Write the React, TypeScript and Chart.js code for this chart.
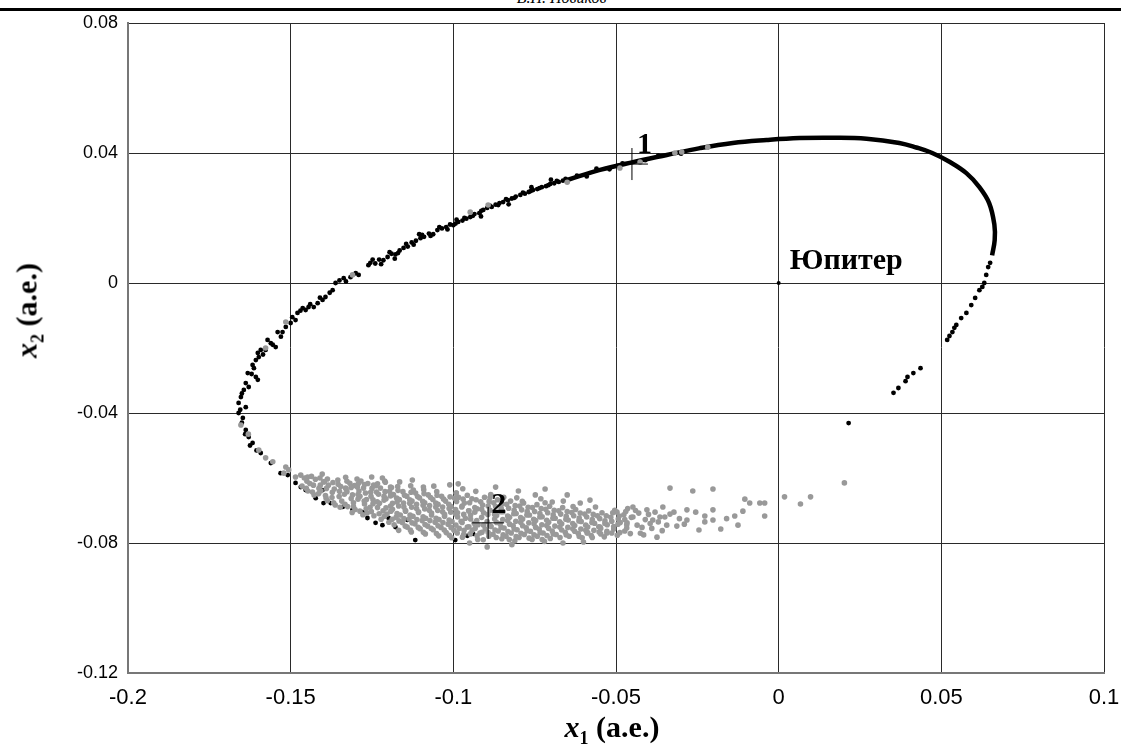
import React, { useEffect, useRef } from "react";
import { Chart, registerables } from "chart.js";

Chart.register(...registerables);

// Axis ranges and tick steps
const xRange = [-0.2, 0.1];
const yRange = [-0.12, 0.08];
const xStep = 0.05;
const yStep = 0.04;

// Dense (continuous-looking) part of the black orbit
const blackCurve: [number, number][] = [
  [-0.065, 0.0317], [-0.0549, 0.0348], [-0.0448, 0.0372], [-0.0344, 0.0394], [-0.0242, 0.0415],
  [-0.0141, 0.0431], [-0.0037, 0.044], [0.0064, 0.0446], [0.0166, 0.0447], [0.027, 0.0444],
  [0.0371, 0.0431], [0.0423, 0.0417], [0.0472, 0.04], [0.0525, 0.0373], [0.0577, 0.0338],
  [0.0617, 0.0295], [0.0647, 0.0246], [0.0663, 0.018], [0.0664, 0.0132], [0.0656, 0.0085],
];

// Individual black points of the orbit
const blackPoints: [number, number][] = [
  [-0.062, 0.033], [-0.059, 0.0328], [-0.056, 0.0352], [-0.052, 0.035], [-0.048, 0.0368], [-0.041, 0.0378],
  [-0.037, 0.0392], [-0.03, 0.0398],
  [-0.1255, 0.0062], [-0.124, 0.006], [-0.1228, 0.0072], [-0.1215, 0.007], [-0.1202, 0.008], [-0.119, 0.009],
  [-0.1178, 0.0088], [-0.1165, 0.01], [-0.1153, 0.0108], [-0.114, 0.0112], [-0.1128, 0.0125], [-0.1115, 0.013],
  [-0.1101, 0.0138], [-0.109, 0.0142], [-0.1075, 0.0152], [-0.1062, 0.015], [-0.1049, 0.0163], [-0.1035, 0.0168],
  [-0.1022, 0.0172], [-0.101, 0.018], [-0.1, 0.0178], [-0.0985, 0.0188], [-0.0972, 0.0192], [-0.096, 0.0198],
  [-0.0948, 0.0203], [-0.0935, 0.0212], [-0.092, 0.0215], [-0.0908, 0.0225], [-0.0896, 0.0231], [-0.0882, 0.0234],
  [-0.087, 0.0241], [-0.0858, 0.0246], [-0.0847, 0.0249], [-0.0832, 0.0255], [-0.082, 0.026], [-0.0808, 0.0266],
  [-0.0794, 0.0271], [-0.078, 0.0275], [-0.0768, 0.028], [-0.0755, 0.0286], [-0.0742, 0.0289], [-0.0728, 0.0295],
  [-0.0715, 0.0298], [-0.0702, 0.0305], [-0.069, 0.0307], [-0.0676, 0.0311], [-0.0663, 0.0315],
  [-0.118, 0.0075], [-0.1105, 0.015], [-0.099, 0.0195], [-0.0915, 0.0205], [-0.083, 0.0242], [-0.076, 0.0295],
  [-0.07, 0.0318],
  [-0.1248, 0.0072], [-0.1222, 0.0058], [-0.1196, 0.0095], [-0.117, 0.0092], [-0.1145, 0.012], [-0.1122, 0.0118],
  [-0.1096, 0.0148], [-0.107, 0.0145], [-0.1043, 0.0172], [-0.1018, 0.0165], [-0.0993, 0.0183], [-0.0966, 0.02],
  [-0.094, 0.0207], [-0.0914, 0.0222], [-0.0888, 0.0238], [-0.0862, 0.024], [-0.0838, 0.0258], [-0.0812, 0.0262],
  [-0.0786, 0.0278], [-0.0762, 0.0283], [-0.0735, 0.0292], [-0.0708, 0.0301], [-0.0682, 0.0314], [-0.0655, 0.032],
  [-0.1261, 0.0055], [-0.1291, 0.0025], [-0.1316, 0.0018], [-0.1337, 0.0015], [-0.1362, 0.0], [-0.1371, -0.0022],
  [-0.1393, -0.0043], [-0.1402, -0.0052], [-0.1417, -0.0062], [-0.1429, -0.0074], [-0.1445, -0.0074],
  [-0.1454, -0.0083], [-0.1463, -0.0077], [-0.1479, -0.0092], [-0.1485, -0.0114], [-0.15, -0.0123],
  [-0.1515, -0.0135], [-0.1525, -0.0151], [-0.154, -0.0151], [-0.1546, -0.0197], [-0.1561, -0.0185],
  [-0.1571, -0.0175], [-0.1577, -0.0206], [-0.1592, -0.0206], [-0.1598, -0.0228], [-0.1601, -0.0215],
  [-0.1607, -0.0237], [-0.1613, -0.0262], [-0.1617, -0.0252], [-0.1607, -0.0289], [-0.1601, -0.0298],
  [-0.1632, -0.0277], [-0.1638, -0.0308], [-0.1629, -0.032], [-0.1644, -0.0329], [-0.1653, -0.0351],
  [-0.166, -0.0369], [-0.1638, -0.0382], [-0.166, -0.04], [-0.1647, -0.0415], [-0.1638, -0.0452],
  [-0.1629, -0.0474], [-0.1617, -0.0492], [-0.1592, -0.0523], [-0.1561, -0.0554], [-0.1531, -0.0585],
  [-0.13, 0.003], [-0.133, 0.0005], [-0.135, 0.0008], [-0.138, -0.003], [-0.141, -0.0045], [-0.144, -0.0065],
  [-0.147, -0.0085], [-0.1495, -0.0105], [-0.153, -0.0165], [-0.1555, -0.019], [-0.1585, -0.022], [-0.162, -0.028],
  [-0.165, -0.034], [-0.1655, -0.039], [-0.165, -0.043], [-0.164, -0.0465], [-0.1625, -0.05], [-0.1605, -0.0515],
  [-0.1509, -0.0591], [-0.1485, -0.0615], [-0.1469, -0.0628], [-0.1454, -0.0637], [-0.1423, -0.0662],
  [-0.1402, -0.0637], [-0.1399, -0.0677], [-0.1377, -0.0677], [-0.134, -0.0689], [-0.131, -0.0698],
  [-0.1279, -0.0705], [-0.1264, -0.0723], [-0.1239, -0.0738], [-0.1218, -0.0745], [-0.1199, -0.0723],
  [-0.1178, -0.0751], [-0.1141, -0.0729], [-0.1117, -0.0791], [-0.0994, -0.0791], [-0.0957, -0.0778],
  [-0.0939, -0.0772],
  [0.065, 0.0062], [0.0644, 0.0049], [0.0638, 0.0025], [0.0632, 0.0], [0.0626, -0.0012], [0.0617, -0.0022],
  [0.0604, -0.0046], [0.0592, -0.0068], [0.0577, -0.0092], [0.0561, -0.0108], [0.0546, -0.0129],
  [0.054, -0.0138], [0.0534, -0.0151], [0.0525, -0.0163], [0.0518, -0.0175],
  [0.0353, -0.0338], [0.0368, -0.0323], [0.039, -0.0302], [0.0396, -0.0289], [0.0414, -0.0277], [0.0436, -0.0262],
  [0.0215, -0.0431],
];

// Grey points (scattered cloud)
const grayPoints: [number, number][] = [
  [-0.0488, 0.0354], [-0.0426, 0.0372], [-0.0319, 0.04], [-0.0298, 0.0403], [-0.0218, 0.0418], [-0.065, 0.031],
  [-0.131, 0.0025], [-0.0948, 0.0218], [-0.0893, 0.024], [-0.1515, -0.012], [-0.1577, -0.02],
  [-0.1653, -0.0437], [-0.163, -0.0465], [-0.1598, -0.0514], [-0.1577, -0.0538], [-0.1555, -0.055],
  [-0.1521, -0.0585], [-0.1515, -0.0566], [-0.1506, -0.0575], [-0.1485, -0.0597], [-0.1469, -0.0591],
  [-0.1448, -0.0597],
  [-0.1458, -0.06], [-0.1465, -0.0625],
  [-0.1436, -0.0595], [-0.1447, -0.064], [-0.1441, -0.0617],
  [-0.1424, -0.0604], [-0.1413, -0.0632], [-0.1428, -0.0652],
  [-0.1396, -0.0611], [-0.1407, -0.0639], [-0.1391, -0.0662], [-0.1403, -0.0588],
  [-0.1384, -0.0622], [-0.1372, -0.0644], [-0.1387, -0.067],
  [-0.1355, -0.0606], [-0.1366, -0.0634], [-0.1351, -0.0657], [-0.1363, -0.0683],
  [-0.1346, -0.0626], [-0.1335, -0.065], [-0.1343, -0.0671], [-0.1331, -0.0598],
  [-0.1318, -0.0616], [-0.1327, -0.0642], [-0.1314, -0.0663], [-0.1325, -0.0688], [-0.1311, -0.0706],
  [-0.1304, -0.0623], [-0.1293, -0.0651], [-0.1307, -0.0676], [-0.1296, -0.0603], [-0.1302, -0.0697],
  [-0.1276, -0.0631], [-0.1287, -0.0656], [-0.1273, -0.068], [-0.1284, -0.0609], [-0.1278, -0.0713],
  [-0.1263, -0.0617], [-0.1254, -0.0644], [-0.1267, -0.0666], [-0.1256, -0.069], [-0.1251, -0.0597], [-0.1265, -0.0708],
  [-0.1236, -0.0643], [-0.1247, -0.0667], [-0.1233, -0.0691], [-0.1244, -0.0716], [-0.1238, -0.0624],
  [-0.1224, -0.0631], [-0.1213, -0.0656], [-0.1227, -0.0678], [-0.1216, -0.0701], [-0.1222, -0.0727], [-0.1211, -0.0609],
  [-0.1196, -0.0641], [-0.1207, -0.0664], [-0.1193, -0.0686], [-0.1204, -0.0711], [-0.1198, -0.0736], [-0.1209, -0.0613],
  [-0.1184, -0.0651], [-0.1173, -0.0674], [-0.1187, -0.0696], [-0.1176, -0.0721], [-0.1182, -0.0744], [-0.1171, -0.0626],
  [-0.1155, -0.0642], [-0.1166, -0.0666], [-0.1152, -0.0689], [-0.1163, -0.0714], [-0.1157, -0.0737], [-0.1168, -0.0761],
  [-0.1143, -0.0656], [-0.1134, -0.0678], [-0.1147, -0.0702], [-0.1136, -0.0726], [-0.1142, -0.0751], [-0.1131, -0.0624],
  [-0.1116, -0.0646], [-0.1127, -0.0671], [-0.1113, -0.0694], [-0.1124, -0.0718], [-0.1118, -0.0741], [-0.1129, -0.0766],
  [-0.1104, -0.0661], [-0.1093, -0.0684], [-0.1107, -0.0706], [-0.1096, -0.0731], [-0.1102, -0.0756], [-0.1091, -0.0636],
  [-0.1077, -0.0652], [-0.1088, -0.0676], [-0.1074, -0.0699], [-0.1085, -0.0724], [-0.1079, -0.0748], [-0.1086, -0.0772],
  [-0.1063, -0.0666], [-0.1054, -0.0689], [-0.1067, -0.0714], [-0.1056, -0.0736], [-0.1062, -0.0759], [-0.1051, -0.0642],
  [-0.1036, -0.0656], [-0.1047, -0.0681], [-0.1033, -0.0704], [-0.1044, -0.0728], [-0.1038, -0.0752], [-0.1045, -0.0778],
  [-0.1024, -0.0671], [-0.1013, -0.0694], [-0.1027, -0.0718], [-0.1016, -0.0742], [-0.1022, -0.0768], [-0.1011, -0.0621],
  [-0.0996, -0.0662], [-0.1007, -0.0688], [-0.0993, -0.0711], [-0.1004, -0.0734], [-0.0998, -0.0761], [-0.1005, -0.0784], [-0.0991, -0.0646],
  [-0.0984, -0.0659], [-0.0973, -0.0686], [-0.0987, -0.0707], [-0.0976, -0.0733], [-0.0982, -0.0755], [-0.0971, -0.0633],
  [-0.0957, -0.0653], [-0.0966, -0.0677], [-0.0952, -0.0701], [-0.0963, -0.0724], [-0.0957, -0.0751], [-0.0968, -0.0773],
  [-0.0943, -0.0664], [-0.0934, -0.0691], [-0.0947, -0.0714], [-0.0936, -0.0739], [-0.0942, -0.0761], [-0.0931, -0.0641],
  [-0.0916, -0.0673], [-0.0927, -0.0695], [-0.0913, -0.0721], [-0.0924, -0.0744], [-0.0918, -0.0769], [-0.0925, -0.0789],
  [-0.0904, -0.0659], [-0.0893, -0.0686], [-0.0907, -0.0707], [-0.0896, -0.0734], [-0.0902, -0.0757], [-0.0891, -0.0779],
  [-0.0876, -0.0676], [-0.0887, -0.0699], [-0.0873, -0.0726], [-0.0884, -0.0749], [-0.0878, -0.0773], [-0.0885, -0.0651],
  [-0.0864, -0.0667], [-0.0853, -0.0693], [-0.0867, -0.0715], [-0.0856, -0.0741], [-0.0862, -0.0763], [-0.0851, -0.0787],
  [-0.0836, -0.0681], [-0.0847, -0.0704], [-0.0833, -0.0731], [-0.0844, -0.0754], [-0.0838, -0.0779], [-0.0845, -0.0659],
  [-0.0824, -0.0671], [-0.0813, -0.0699], [-0.0827, -0.0721], [-0.0816, -0.0747], [-0.0822, -0.0769], [-0.0811, -0.0793],
  [-0.0796, -0.0686], [-0.0807, -0.0709], [-0.0793, -0.0736], [-0.0804, -0.0759], [-0.0798, -0.0783], [-0.0805, -0.0661],
  [-0.0784, -0.0677], [-0.0773, -0.0703], [-0.0787, -0.0726], [-0.0776, -0.0753], [-0.0782, -0.0774],
  [-0.0757, -0.0691], [-0.0766, -0.0714], [-0.0752, -0.0741], [-0.0763, -0.0764], [-0.0758, -0.0789],
  [-0.0743, -0.0682], [-0.0734, -0.0709], [-0.0747, -0.0731], [-0.0736, -0.0757], [-0.0742, -0.0779], [-0.0731, -0.0664],
  [-0.0716, -0.0696], [-0.0727, -0.0719], [-0.0713, -0.0746], [-0.0724, -0.0769], [-0.0718, -0.0676],
  [-0.0704, -0.0687], [-0.0693, -0.0713], [-0.0707, -0.0736], [-0.0696, -0.0763], [-0.0702, -0.0786],
  [-0.0676, -0.0701], [-0.0687, -0.0724], [-0.0673, -0.0751], [-0.0684, -0.0774],
  [-0.0664, -0.0691], [-0.0653, -0.0718], [-0.0667, -0.0741], [-0.0656, -0.0767], [-0.0662, -0.0671],
  [-0.0636, -0.0706], [-0.0647, -0.0729], [-0.0633, -0.0756], [-0.0644, -0.0779],
  [-0.0624, -0.0697], [-0.0613, -0.0723], [-0.0627, -0.0746], [-0.0616, -0.0771],
  [-0.0596, -0.0711], [-0.0607, -0.0734], [-0.0593, -0.0761], [-0.0604, -0.0784],
  [-0.0584, -0.0701], [-0.0573, -0.0728], [-0.0587, -0.0751], [-0.0576, -0.0777],
  [-0.0557, -0.0716], [-0.0566, -0.0739], [-0.0552, -0.0766], [-0.0563, -0.0689],
  [-0.0543, -0.0707], [-0.0534, -0.0732], [-0.0547, -0.0755], [-0.0536, -0.0781],
  [-0.0516, -0.0721], [-0.0527, -0.0744], [-0.0513, -0.0769],
  [-0.0504, -0.0699], [-0.0493, -0.0726], [-0.0507, -0.0749], [-0.0496, -0.0776],
  [-0.0476, -0.0713], [-0.0487, -0.0737], [-0.0473, -0.0763],
  [-0.0464, -0.0694], [-0.0453, -0.0721], [-0.0467, -0.0744], [-0.0456, -0.0771],
  [-0.043, -0.0708], [-0.042, -0.0752], [-0.041, -0.0728],
  [-0.044, -0.07], [-0.0435, -0.0745], [-0.0425, -0.077], [-0.04, -0.0712], [-0.0395, -0.074],
  [-0.038, -0.0705], [-0.037, -0.0735], [-0.035, -0.072], [-0.0322, -0.0705], [-0.029, -0.0742],
  [-0.1165, -0.0612], [-0.106, -0.0625], [-0.0985, -0.0618], [-0.087, -0.0628], [-0.08, -0.064], [-0.065, -0.0652],
  [-0.058, -0.0668], [-0.095, -0.08], [-0.082, -0.0805], [-0.072, -0.0795], [-0.06, -0.0797],
  [-0.145, -0.061], [-0.1452, -0.0632], [-0.143, -0.0622], [-0.1433, -0.0643],
  [-0.141, -0.06], [-0.1414, -0.0648], [-0.1409, -0.0622], [-0.139, -0.0632], [-0.1393, -0.0654], [-0.1387, -0.0603],
  [-0.137, -0.0614], [-0.1373, -0.066], [-0.1368, -0.0676], [-0.135, -0.0641], [-0.1354, -0.0619], [-0.1348, -0.069],
  [-0.133, -0.0633], [-0.1333, -0.0681], [-0.1327, -0.061], [-0.131, -0.0652], [-0.1314, -0.0629], [-0.1307, -0.0688],
  [-0.129, -0.064], [-0.1293, -0.0665], [-0.1287, -0.0702], [-0.1292, -0.0617],
  [-0.127, -0.0646], [-0.1274, -0.0671], [-0.1268, -0.0695], [-0.1273, -0.062],
  [-0.125, -0.0632], [-0.1253, -0.0656], [-0.1247, -0.0679], [-0.1252, -0.0703],
  [-0.123, -0.065], [-0.1234, -0.0673], [-0.1228, -0.071], [-0.1233, -0.0618],
  [-0.121, -0.0642], [-0.1213, -0.0668], [-0.1207, -0.0692], [-0.1212, -0.0718],
  [-0.119, -0.0629], [-0.1193, -0.0655], [-0.1187, -0.0678], [-0.1192, -0.0702], [-0.1188, -0.0727],
  [-0.117, -0.0638], [-0.1174, -0.0662], [-0.1168, -0.0686], [-0.1173, -0.0709], [-0.1167, -0.0732],
  [-0.115, -0.0653], [-0.1153, -0.0677], [-0.1147, -0.07], [-0.1152, -0.0725], [-0.1148, -0.0748],
  [-0.113, -0.0644], [-0.1134, -0.0667], [-0.1128, -0.069], [-0.1133, -0.0714], [-0.1127, -0.0738], [-0.1132, -0.076],
  [-0.111, -0.0657], [-0.1113, -0.0681], [-0.1107, -0.0704], [-0.1112, -0.0728], [-0.1108, -0.0752],
  [-0.109, -0.0648], [-0.1094, -0.0672], [-0.1088, -0.0695], [-0.1093, -0.0719], [-0.1087, -0.0743], [-0.1092, -0.0767],
  [-0.107, -0.066], [-0.1073, -0.0685], [-0.1067, -0.0708], [-0.1072, -0.0731], [-0.1068, -0.0755],
  [-0.105, -0.0653], [-0.1054, -0.0677], [-0.1048, -0.07], [-0.1053, -0.0724], [-0.1047, -0.0747], [-0.1052, -0.0771],
  [-0.103, -0.0665], [-0.1033, -0.0689], [-0.1027, -0.0712], [-0.1032, -0.0737], [-0.1028, -0.076],
  [-0.101, -0.0658], [-0.1014, -0.0681], [-0.1008, -0.0705], [-0.1013, -0.0729], [-0.1007, -0.0752], [-0.1012, -0.0776],
  [-0.099, -0.0672], [-0.0993, -0.0697], [-0.0987, -0.072], [-0.0992, -0.0745], [-0.0988, -0.0769],
  [-0.097, -0.0665], [-0.0974, -0.0689], [-0.0968, -0.0712], [-0.0973, -0.0737], [-0.0967, -0.0761], [-0.0972, -0.0782],
  [-0.095, -0.0676], [-0.0953, -0.0701], [-0.0947, -0.0726], [-0.0952, -0.075], [-0.0948, -0.0772],
  [-0.093, -0.0667], [-0.0934, -0.0705], [-0.0928, -0.0731], [-0.0933, -0.0755], [-0.0927, -0.0778],
  [-0.091, -0.0683], [-0.0913, -0.0696], [-0.0907, -0.0745], [-0.0912, -0.0767], [-0.0908, -0.079],
  [-0.089, -0.0672], [-0.0894, -0.0712], [-0.0888, -0.0747], [-0.0893, -0.0768], [-0.0887, -0.066],
  [-0.087, -0.0688], [-0.0873, -0.0712], [-0.0867, -0.0737], [-0.0872, -0.076], [-0.0868, -0.0783],
  [-0.085, -0.068], [-0.0854, -0.0704], [-0.0848, -0.0728], [-0.0853, -0.0752], [-0.0847, -0.0775],
  [-0.083, -0.0693], [-0.0833, -0.0717], [-0.0827, -0.0742], [-0.0832, -0.0765], [-0.0828, -0.0789],
  [-0.081, -0.0685], [-0.0814, -0.071], [-0.0808, -0.0733], [-0.0813, -0.0757], [-0.0807, -0.078],
  [-0.079, -0.0698], [-0.0793, -0.0722], [-0.0787, -0.0747], [-0.0792, -0.077], [-0.0788, -0.0672],
  [-0.077, -0.069], [-0.0774, -0.0714], [-0.0768, -0.0738], [-0.0773, -0.0762], [-0.0767, -0.0785],
  [-0.075, -0.0703], [-0.0753, -0.0727], [-0.0747, -0.0752], [-0.0752, -0.0775],
  [-0.073, -0.0694], [-0.0734, -0.072], [-0.0728, -0.0744], [-0.0733, -0.0768], [-0.0727, -0.0789],
  [-0.071, -0.0707], [-0.0713, -0.073], [-0.0707, -0.0755], [-0.0712, -0.0777],
  [-0.069, -0.0699], [-0.0694, -0.0724], [-0.0688, -0.0748], [-0.0693, -0.0772],
  [-0.067, -0.0711], [-0.0673, -0.0735], [-0.0667, -0.076], [-0.0672, -0.0783],
  [-0.065, -0.0703], [-0.0654, -0.0727], [-0.0648, -0.0752], [-0.0653, -0.0775],
  [-0.063, -0.0716], [-0.0633, -0.074], [-0.0627, -0.0764], [-0.0632, -0.0688],
  [-0.061, -0.0708], [-0.0614, -0.0732], [-0.0608, -0.0757], [-0.0613, -0.078],
  [-0.059, -0.072], [-0.0593, -0.0745], [-0.0587, -0.0768],
  [-0.057, -0.0712], [-0.0574, -0.0737], [-0.0568, -0.0761], [-0.0573, -0.0783],
  [-0.055, -0.0725], [-0.0553, -0.075], [-0.0547, -0.0772],
  [-0.053, -0.0716], [-0.0534, -0.074], [-0.0528, -0.0764],
  [-0.051, -0.0707], [-0.0513, -0.0733], [-0.0507, -0.0757],
  [-0.049, -0.0717], [-0.0494, -0.0742], [-0.0488, -0.0768],
  [-0.047, -0.0703], [-0.0473, -0.0728], [-0.0467, -0.0754],
  [-0.0334, -0.0631], [-0.0264, -0.064], [-0.0202, -0.0634], [-0.0104, -0.0665], [-0.0089, -0.0677],
  [-0.0058, -0.0677], [-0.0043, -0.0677], [0.0018, -0.0658], [0.0067, -0.068], [0.0098, -0.0658],
  [0.0202, -0.0615], [-0.0043, -0.0717], [-0.011, -0.0702], [-0.0135, -0.0717], [-0.0178, -0.0757],
  [-0.0202, -0.0729], [-0.0202, -0.0698], [-0.0227, -0.0717], [-0.0227, -0.0735], [-0.0282, -0.0698],
  [-0.0282, -0.0729], [-0.0313, -0.0748], [-0.0344, -0.0745], [-0.0374, -0.0782], [-0.0334, -0.0711],
  [-0.0356, -0.0689], [-0.0365, -0.072], [-0.0387, -0.0729], [-0.0405, -0.0698], [-0.0448, -0.0689],
  [-0.0448, -0.072], [-0.0466, -0.0738], [-0.0497, -0.0705], [-0.0528, -0.0769], [-0.0549, -0.0751],
  [-0.0589, -0.0769], [-0.061, -0.0677], [-0.0663, -0.08], [-0.0718, -0.0634], [-0.0696, -0.0674],
  [-0.0748, -0.0652], [-0.0896, -0.0812], [-0.1126, -0.0606], [-0.1092, -0.0628], [-0.0991, -0.0646],
  [-0.1218, -0.06], [-0.1123, -0.0637], [-0.1399, -0.0612], [-0.1331, -0.0631], [-0.1295, -0.0628],
  [-0.1245, -0.0622], [-0.1193, -0.0628], [-0.039, -0.0755], [-0.0415, -0.0775], [-0.0358, -0.0762],
  [-0.0305, -0.0725], [-0.0255, -0.0705], [-0.0245, -0.076], [-0.016, -0.0725], [-0.0125, -0.0745],
];

// Special markers
const jupiter: [number, number][] = [[0, 0]];
const crossPoints: [number, number][] = [[-0.0451, 0.0366], [-0.0893, -0.0738]];
const crossLabels = ["1", "2"];
const jupiterLabel = "Юпитер";

const toXY = (arr: [number, number][]) => arr.map(([x, y]) => ({ x, y }));
const fmt = (v: number) => String(Number(v.toFixed(2)));

const labelPlugin = {
  id: "pointLabels",
  afterDatasetsDraw(chart: any) {
    const { ctx, scales } = chart;
    const xs = scales.x;
    const ys = scales.y;
    ctx.save();
    ctx.fillStyle = "#000";
    ctx.font = "bold 30px 'Liberation Serif', 'Times New Roman', serif";
    ctx.textAlign = "left";
    ctx.textBaseline = "alphabetic";
    const offs = [
      [5, -11],
      [3, -10],
    ];
    crossPoints.forEach(([x, y], i) => {
      const px = xs.getPixelForValue(x);
      const py = ys.getPixelForValue(y);
      ctx.fillText(crossLabels[i], px + offs[i][0], py + offs[i][1]);
    });
    const jx = xs.getPixelForValue(jupiter[0][0]);
    const jy = ys.getPixelForValue(jupiter[0][1]);
    ctx.fillText(jupiterLabel, jx + 11, jy - 14);
    ctx.restore();
  },
};

export default function App() {
  const ref = useRef<HTMLCanvasElement | null>(null);

  useEffect(() => {
    if (!ref.current) return;
    const chart = new Chart(ref.current, {
      type: "scatter",
      data: {
        datasets: [
          {
            label: "orbit line",
            data: toXY(blackCurve),
            showLine: true,
            borderColor: "#000",
            borderWidth: 4.5,
            pointRadius: 0,
            tension: 0.4,
            order: 3,
          } as any,
          {
            label: "black",
            data: toXY(blackPoints),
            pointRadius: 2.4,
            backgroundColor: "#000",
            borderWidth: 0,
            order: 2,
          },
          {
            label: "gray",
            data: toXY(grayPoints),
            pointRadius: 2.8,
            backgroundColor: "#999999",
            borderWidth: 0,
            order: 1,
          },
          {
            label: "Jupiter",
            data: toXY(jupiter),
            pointRadius: 2,
            backgroundColor: "#000",
            borderWidth: 0,
            order: 0,
          },
          {
            label: "crosses",
            data: toXY(crossPoints),
            pointStyle: "cross",
            pointRadius: 16,
            borderColor: "#000",
            borderWidth: 1,
            order: 0,
          },
        ],
      },
      options: {
        responsive: false,
        animation: false,
        events: [],
        layout: { padding: { top: 23, right: 16, bottom: 0, left: 0 } },
        plugins: { legend: { display: false }, tooltip: { enabled: false } },
        scales: {
          x: {
            type: "linear",
            min: xRange[0],
            max: xRange[1],
            afterFit: (s: any) => {
              s.height = 76;
              s.paddingLeft = 0;
              s.paddingRight = 0;
            },
            ticks: {
              stepSize: xStep,
              callback: (v: any) => fmt(Number(v)),
              color: "#000",
              padding: 12,
              maxRotation: 0,
              autoSkip: false,
              font: { family: "'Liberation Sans', Arial, sans-serif", size: 22 },
            },
            grid: { color: "#2a2a2a", lineWidth: 1, drawTicks: false },
            border: { color: "#777", width: 2 },
          },
          y: {
            type: "linear",
            min: yRange[0],
            max: yRange[1],
            afterFit: (s: any) => {
              s.width = 128;
              s.paddingTop = 0;
              s.paddingBottom = 0;
            },
            ticks: {
              stepSize: yStep,
              callback: (v: any) => fmt(Number(v)),
              color: "#000",
              padding: 10,
              autoSkip: false,
              font: { family: "'Liberation Sans', Arial, sans-serif", size: 18 },
            },
            grid: { color: "#2a2a2a", lineWidth: 1, drawTicks: false },
            border: { color: "#777", width: 2 },
          },
        },
      },
      plugins: [labelPlugin],
    });
    return () => chart.destroy();
  }, []);

  const serif = "'Liberation Serif', 'Times New Roman', serif";
  return (
    <div style={{ position: "fixed", left: 0, top: 0, width: 1121, height: 749, background: "#fff", overflow: "hidden" }}>
      <div
        style={{
          position: "absolute",
          left: 0,
          width: 1121,
          top: -11,
          textAlign: "center",
          fontFamily: serif,
          fontStyle: "italic",
          fontSize: 16,
          lineHeight: "18px",
        }}
      >
        <span style={{ position: "relative", left: 1 }}>В.Н. Новиков</span>
      </div>
      <div style={{ position: "absolute", left: 0, top: 8, width: 1121, height: 3, background: "#000" }} />
      <canvas ref={ref} width={1121} height={749} style={{ position: "absolute", left: 0, top: 0 }} />
      <div
        style={{
          position: "absolute",
          left: 462,
          width: 300,
          top: 710,
          textAlign: "center",
          fontFamily: serif,
          fontWeight: "bold",
          fontSize: 30,
          lineHeight: "34px",
        }}
      >
        <i>x</i>
        <sub style={{ fontSize: 18 }}>1</sub> (a.e.)
      </div>
      <div style={{ position: "absolute", left: 32, top: 305, width: 0, height: 0 }}>
        <div
          style={{
            position: "absolute",
            left: -150,
            top: -17,
            width: 300,
            textAlign: "center",
            transform: "rotate(-90deg)",
            fontFamily: serif,
            fontWeight: "bold",
            fontSize: 30,
            lineHeight: "34px",
            whiteSpace: "nowrap",
          }}
        >
          <i>x</i>
          <sub style={{ fontSize: 18 }}>2</sub> (a.e.)
        </div>
      </div>
    </div>
  );
}
